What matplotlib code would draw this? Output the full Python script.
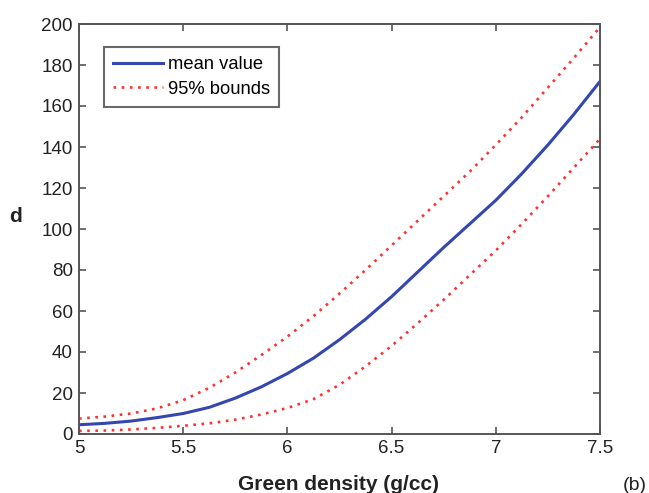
import matplotlib
matplotlib.use("Agg")
import matplotlib.pyplot as plt

plt.rcParams['font.family'] = ['Liberation Sans', 'DejaVu Sans']

# Green density (g/cc) and fitted d values
density = [5.0, 5.125, 5.25, 5.375, 5.5, 5.625, 5.75, 5.875, 6.0, 6.125, 6.25,
           6.375, 6.5, 6.625, 6.75, 6.875, 7.0, 7.125, 7.25, 7.375, 7.5]
mean_value = [4.5, 5.2, 6.3, 8, 10, 13, 17.5, 23, 29.5, 37, 46,
              56, 67, 79, 91, 102.5, 114, 127, 141, 156, 172]
upper_bound = [7.5, 8.5, 10, 12.5, 16.5, 22.5, 30, 38.5, 47.5, 57.5, 68.5,
               80, 92, 104, 116, 128, 141, 154.5, 169, 183.5, 198.5]
lower_bound = [1.5, 1.7, 2.2, 3, 4, 5.2, 7, 9.5, 12.7, 17, 24,
               33, 43, 54, 65.5, 77.5, 89.5, 102.5, 116, 130, 144]

x_ticks = [5, 5.5, 6, 6.5, 7, 7.5]
x_tick_labels = ["5", "5.5", "6", "6.5", "7", "7.5"]
y_ticks = [0, 20, 40, 60, 80, 100, 120, 140, 160, 180, 200]

W, H = 649, 493
fig = plt.figure(figsize=(W / 100, H / 100), dpi=100)
ax = fig.add_axes([79 / W, 1 - 434 / H, (600 - 79) / W, (434 - 24) / H])

blue = "#3447b0"
red = "#ff3030"
ax.plot(density, mean_value, color=blue, lw=2.2, label="mean value")
ax.plot(density, upper_bound, color=red, lw=1.9, ls=(0, (1, 2.1)), label="95% bounds")
ax.plot(density, lower_bound, color=red, lw=1.9, ls=(0, (1, 2.1)))

ax.set_xlim(5, 7.5)
ax.set_ylim(0, 200)
ax.set_xticks(x_ticks)
ax.set_xticklabels(x_tick_labels)
ax.set_yticks(y_ticks)

for s in ax.spines.values():
    s.set_color("#555555")
    s.set_linewidth(1.4)
ax.tick_params(direction="in", length=5, width=1.2, color="#555555",
               top=True, right=True, labelsize=13.5, labelcolor="#222222", pad=4.5)

leg = ax.legend(loc="upper left", bbox_to_anchor=(25 / 521, 1 - 23 / 410),
                fontsize=13.2, frameon=True, fancybox=False, handlelength=2.7,
                handletextpad=0.3, borderpad=0.5, labelspacing=0.42,
                borderaxespad=0)
leg.get_frame().set_edgecolor("#444444")
leg.get_frame().set_linewidth(1.5)

fig.text(15 / W, 1 - 217 / H, "d", fontsize=15, fontweight="bold",
         ha="center", va="center", color="#222222")
fig.text(338 / W, 1 - 490 / H, "Green density (g/cc)", fontsize=15,
         fontweight="bold", ha="center", va="baseline", color="#222222")
fig.text(635 / W, 1 - 485 / H, "(b)", fontsize=14, ha="center",
         va="center", color="#222222")

fig.savefig("out.png", dpi=100)
